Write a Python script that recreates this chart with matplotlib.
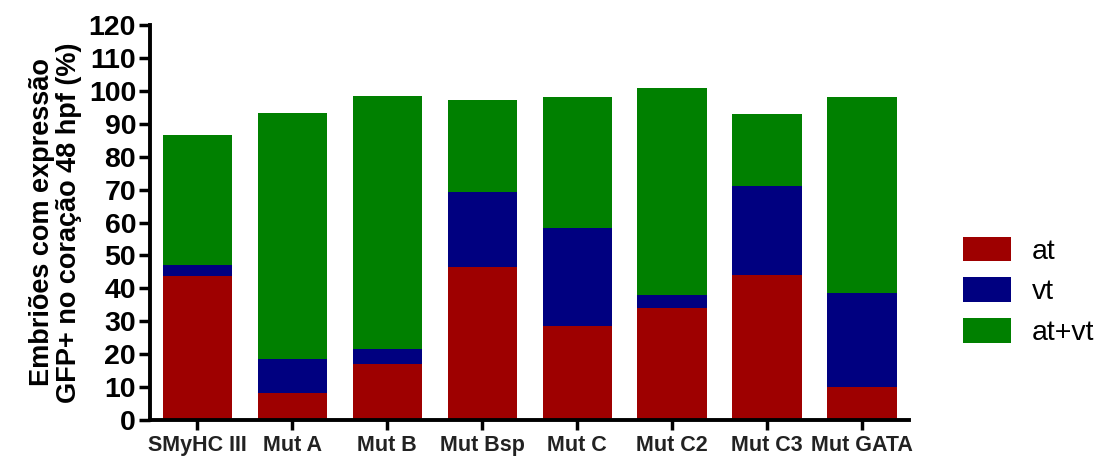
import matplotlib
matplotlib.use("Agg")
import matplotlib.pyplot as plt
import numpy as np

categories = ["SMyHC III", "Mut A", "Mut B", "Mut Bsp", "Mut C", "Mut C2", "Mut C3", "Mut GATA"]
at_vals = [43.8, 8.3, 16.9, 46.4, 28.5, 34.0, 44.0, 10.1]
vt_vals = [3.3, 10.1, 4.6, 23.0, 29.9, 4.0, 27.2, 28.6]
atvt_vals = [39.5, 74.8, 77.0, 27.7, 39.6, 62.8, 21.8, 59.3]
series_names = ["at", "vt", "at+vt"]
colors = ["#9E0000", "#000080", "#008000"]
yticks = list(range(0, 121, 10))

plt.rcParams['font.family'] = ['Liberation Sans', 'DejaVu Sans']

fig = plt.figure(figsize=(11.07, 4.59), dpi=100)
ax = fig.add_axes([0.1355, 0.085, 0.686, 0.8605])

x = np.arange(len(categories))
w = 0.73
bottom = np.zeros(len(categories))
handles = []
for vals, name, c in zip([at_vals, vt_vals, atvt_vals], series_names, colors):
    h = ax.bar(x, vals, w, bottom=bottom, color=c, label=name, linewidth=0)
    handles.append(h)
    bottom += np.array(vals)

ax.set_xlim(-0.5, 7.5)
ax.set_ylim(0, 120)
ax.set_yticks(yticks)
ax.set_xticks(x)
ax.set_xticklabels(categories, fontsize=15.5, fontweight='bold', color='#222222')
for lab in ax.get_yticklabels():
    lab.set_fontsize(20.5)
    lab.set_fontweight('bold')
ax.tick_params(axis='y', length=8, width=2.5, pad=2)
ax.tick_params(axis='x', length=7, width=2.5, pad=4)
for s in ['top', 'right']:
    ax.spines[s].set_visible(False)
for s in ['left', 'bottom']:
    ax.spines[s].set_linewidth(2.8)
ax.spines['bottom'].set_bounds(-0.5, 7.5)

ax.set_ylabel("Embriões com expressão\nGFP+ no coração 48 hpf (%)", fontsize=19.5,
              fontweight='bold', labelpad=5, linespacing=1.05)

fig.legend(handles=handles, labels=series_names, loc='center left',
           bbox_to_anchor=(0.870, 0.365), frameon=False, fontsize=20.5,
           handlelength=1.7, handleheight=0.95, labelspacing=0.45,
           handletextpad=0.7, borderpad=0, borderaxespad=0)

fig.savefig("out.png", dpi=100)
